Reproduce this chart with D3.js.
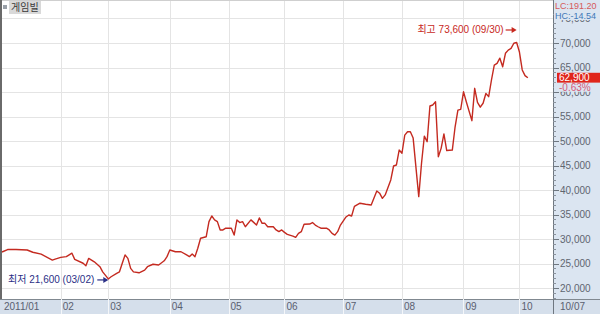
<!DOCTYPE html>
<html><head><meta charset="utf-8">
<script src="https://cdn.jsdelivr.net/npm/d3@7"></script>
<style>body{margin:0;background:#fff}svg{display:block}</style>
</head><body><svg id="c" width="600" height="314"></svg>
<script>
// trading-day index since 2011/01/03
const tradingDay = [0,2,5,9,11,14,18,19,21,23,25,26,29,30,31,33,35,36,38,39,41,42,43,44,45,46,47,49,51,52,54,56,58,59,60,62,64,66,67,68,69,70,71,73,74,75,76,77,78,79,80,82,83,84,85,86,87,89,91,92,93,94,95,97,98,99,100,101,102,104,105,106,107,108,110,111,112,113,114,116,117,118,119,120,121,123,124,125,126,128,130,132,134,135,136,137,139,140,141,142,143,144,145,146,147,149,150,151,152,153,154,155,156,157,158,159,161,162,163,164,165,166,168,169,170,171,172,173,174,175,176,177,178,179,180,181,182,183,184,185,186,187,188];
const price = [27350,27850,27850,27750,27300,26900,25700,25900,26250,26400,27100,25850,25050,24550,26050,25350,24350,23300,21850,22300,23000,23300,25050,26750,26050,24000,23300,23100,23650,24350,24850,24700,25550,26400,27750,27400,27400,26750,26400,26950,26400,28100,30150,30450,33550,34700,33900,33550,31850,31850,32200,32200,30800,33900,33350,33550,32500,33900,32850,34300,33200,33200,32500,32500,31850,31500,31850,31350,30950,30600,30350,31150,31500,33000,33050,33350,32850,32500,32200,32200,31850,31150,30800,31500,32850,34500,34900,34700,36650,37300,37100,36950,39800,39350,38300,39000,42050,44900,45100,48150,47500,51200,51900,51900,50600,38650,45500,51000,49850,57150,57350,58000,46800,48500,51450,48050,48150,52900,56300,56450,60050,58000,54150,60750,57900,56900,57700,59700,59050,62450,65500,65850,66900,65150,67900,68550,68900,69950,70100,68150,64500,63350,62900];
const monthStartDay = [0,21,38,60,81,101,122,143,165,185];
const monthLabels = ["2011/01","02","03","04","05","06","07","08","09","10"];
const yTickValues = [20000,25000,30000,35000,40000,45000,50000,55000,60000,65000,70000,75000];
const lastDateLabel = "10/07";
const title = "게임빌";
const highText = "최고 73,600 (09/30)";
const lowText = "최저 21,600 (03/02)";
const highDay = 184, lowDay = 38, lowValue = 21850;
const lastPrice = "62,900", lastChange = "-0.63%";
const lcText = "LC:191.20", hcText = "HC:-14.54";

const svg = d3.select("#c");
const W = 600, H = 314, plotR = 553, stripTop = 299;
const x = d3.scaleLinear().domain([0,197]).range([2, plotR]);
const y = d3.scaleLinear().domain([20000,70000]).range([288,43]);
const font = "'Liberation Sans Narrow','Liberation Sans','Noto Sans CJK KR',sans-serif";
const panel = "#dbe5f1";

svg.append("rect").attr("width",W).attr("height",H).attr("fill","#fff");
svg.append("rect").attr("x",plotR).attr("y",0).attr("width",W-plotR).attr("height",H).attr("fill",panel);
// grid
svg.append("g").selectAll("line").data(yTickValues.filter(v=>y(v)>2)).join("line")
  .attr("x1",2).attr("x2",plotR).attr("y1",d=>Math.round(y(d))+0.5).attr("y2",d=>Math.round(y(d))+0.5)
  .attr("stroke","#e4e4e4");
svg.append("g").selectAll("line").data(monthStartDay.slice(1)).join("line")
  .attr("x1",d=>Math.round(x(d))+0.5).attr("x2",d=>Math.round(x(d))+0.5).attr("y1",0).attr("y2",stripTop)
  .attr("stroke","#e4e4e4");
svg.append("line").attr("x1",0).attr("x2",plotR).attr("y1",0.5).attr("y2",0.5).attr("stroke","#cfcfcf");

// price line
const pts = tradingDay.map((d,i)=>[d,price[i]]);
svg.append("path").attr("d", d3.line().x(d=>x(d[0])).y(d=>y(d[1]))(pts))
  .attr("fill","none").attr("stroke","#c42a20").attr("stroke-width",1.4).attr("stroke-linejoin","round");

// bottom strip
svg.append("rect").attr("x",0).attr("y",stripTop).attr("width",W).attr("height",H-stripTop).attr("fill","#d5dfeb");
svg.append("line").attr("x1",0).attr("x2",W).attr("y1",stripTop+0.5).attr("y2",stripTop+0.5).attr("stroke","#808890");
svg.append("g").selectAll("line").data(monthStartDay.slice(1)).join("line")
  .attr("x1",d=>Math.round(x(d))+0.5).attr("x2",d=>Math.round(x(d))+0.5).attr("y1",stripTop).attr("y2",H)
  .attr("stroke","#f4f6f9");
svg.append("g").selectAll("text").data(monthStartDay).join("text")
  .attr("x",d=>x(d)+2).attr("y",310).text((d,i)=>monthLabels[i])
  .attr("font-family",font).attr("font-size",10).attr("fill","#5a6070");
svg.append("text").attr("x",560).attr("y",310).text(lastDateLabel)
  .attr("font-family",font).attr("font-size",10).attr("fill","#5a6070");

// right axis
svg.append("line").attr("x1",plotR+0.5).attr("x2",plotR+0.5).attr("y1",0).attr("y2",H).attr("stroke","#6f7780");
const minor = d3.range(18000,77000,1000);
svg.append("g").selectAll("line").data(minor).join("line")
  .attr("x1",plotR).attr("x2",plotR+3).attr("y1",d=>Math.round(y(d))+0.5).attr("y2",d=>Math.round(y(d))+0.5)
  .attr("stroke","#8a929c");
svg.append("g").selectAll("line").data(yTickValues).join("line")
  .attr("x1",plotR).attr("x2",plotR+6).attr("y1",d=>Math.round(y(d))+0.5).attr("y2",d=>Math.round(y(d))+0.5)
  .attr("stroke","#6f7780");
svg.append("g").selectAll("text").data(yTickValues).join("text")
  .attr("x",560).attr("y",d=>y(d)+3.5).text(d=>d3.format(",")(d))
  .attr("font-family",font).attr("font-size",10).attr("fill","#5f6670");

// LC / HC box (covers top of the 75,000 label as in the original)
svg.append("rect").attr("x",plotR+1).attr("y",0).attr("width",W-plotR).attr("height",20).attr("fill",panel);
svg.append("text").attr("x",555).attr("y",9).text(lcText).attr("font-family",font).attr("font-size",9).attr("fill","#d65a5a");
svg.append("text").attr("x",555).attr("y",18.5).text(hcText).attr("font-family",font).attr("font-size",9).attr("fill","#3f78b8");

// last price box
const ly = y(62900);
svg.append("rect").attr("x",557).attr("y",ly-5).attr("width",W-557).attr("height",10).attr("fill","#e0251b");
svg.append("text").attr("x",559).attr("y",ly+3.5).text(lastPrice).attr("font-family",font).attr("font-size",10).attr("fill","#fff");
svg.append("rect").attr("x",plotR+1).attr("y",ly+5).attr("width",W-plotR).attr("height",9).attr("fill",panel);
svg.append("text").attr("x",559).attr("y",ly+13).text(lastChange).attr("font-family",font).attr("font-size",10).attr("fill","#d65a7a");

// title
svg.append("rect").attr("x",3).attr("y",5).attr("width",4).attr("height",4).attr("fill","#9aa0a8");
svg.append("rect").attr("x",9).attr("y",1).attr("width",32).attr("height",13).attr("fill","#d9d9d9");
svg.append("text").attr("x",11).attr("y",11).text(title).attr("font-family","'Noto Sans CJK KR',sans-serif").attr("font-size",10).attr("fill","#3a3a3a");
svg.append("rect").attr("x",0).attr("y",0).attr("width",2).attr("height",stripTop).attr("fill","#6a6a6a");

// annotations
function arrow(x1,x2,yy,color){
  svg.append("line").attr("x1",x1).attr("x2",x2-4).attr("y1",yy).attr("y2",yy).attr("stroke",color).attr("stroke-width",1.2);
  svg.append("path").attr("d",`M${x2},${yy}L${x2-5},${yy-3}L${x2-5},${yy+3}Z`).attr("fill",color);
}
const hx = x(highDay);
svg.append("text").attr("x",hx-13).attr("y",33).attr("text-anchor","end").text(highText)
  .attr("font-family",font).attr("font-size",10).attr("fill","#c8281e");
arrow(hx-11,hx,30,"#c8281e");
const lx = x(lowDay), lyy = y(lowValue)+1;
svg.append("text").attr("x",lx-14).attr("y",lyy+3.5).attr("text-anchor","end").text(lowText)
  .attr("font-family",font).attr("font-size",10).attr("fill","#2b2f86");
arrow(lx-11,lx,lyy,"#2b2f86");
</script></body></html>
